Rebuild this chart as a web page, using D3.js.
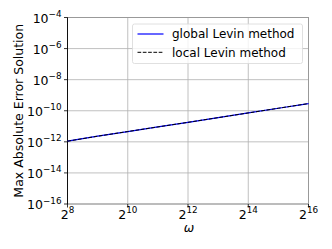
<!DOCTYPE html>
<html>
<head>
<meta charset="utf-8">
<script src="https://cdn.jsdelivr.net/npm/d3@7"></script>
<style>
  body { margin: 0; background: #fff; }
  svg text { font-family: "DejaVu Sans", sans-serif; fill: #000; }
</style>
</head>
<body>
<svg id="chart" width="332" height="249"></svg>
<script>
'use strict'

// omega exponents (base 2) and max abs errors
const log2Omega = [8, 9, 10, 11, 12, 13, 14, 15, 16]
const globalErr = [1.1e-12, 2.3e-12, 4.6e-12, 9.1e-12, 1.8e-11, 3.6e-11, 7.2e-11, 1.45e-10, 2.9e-10]
const localErr  = [1.1e-12, 2.3e-12, 4.6e-12, 9.1e-12, 1.8e-11, 3.6e-11, 7.2e-11, 1.45e-10, 2.9e-10]
const xTickExp = [8, 10, 12, 14, 16]
const yTickExp = [-4, -6, -8, -10, -12, -14, -16]
const seriesNames = ['global Levin method', 'local Levin method']

const margins = {top: 17.5, right: 23.5, bottom: 45, left: 67.5}
const width = 332 - margins.left - margins.right
const height = 249 - margins.top - margins.bottom

const svg = d3.select('#chart')
const g = svg.append('g').attr('transform', 'translate(' + margins.left + ',' + margins.top + ')')

const x = d3.scaleLog().base(2).domain([2 ** 8, 2 ** 16]).range([0, width])
const y = d3.scaleLog().domain([1e-16, 1e-4]).range([height, 0])

// grid
g.selectAll('.vgrid').data(xTickExp).enter().append('line')
  .attr('x1', d => x(2 ** d)).attr('x2', d => x(2 ** d))
  .attr('y1', 0).attr('y2', height)
  .attr('stroke', '#b0b0b0').attr('stroke-width', 0.8)
g.selectAll('.hgrid').data(yTickExp).enter().append('line')
  .attr('y1', d => y(10 ** d)).attr('y2', d => y(10 ** d))
  .attr('x1', 0).attr('x2', width)
  .attr('stroke', '#b0b0b0').attr('stroke-width', 0.8)

// spines: grid sits on top/right/bottom so they look grey
g.append('rect').attr('width', width).attr('height', height)
  .attr('fill', 'none').attr('stroke', '#999').attr('stroke-width', 1)
g.append('line').attr('x1', 0).attr('x2', 0).attr('y1', 0).attr('y2', height)
  .attr('stroke', '#000').attr('stroke-width', 0.9)

// ticks + labels, x axis
const xt = g.selectAll('.xt').data(xTickExp).enter().append('g')
  .attr('transform', d => 'translate(' + x(2 ** d) + ',' + height + ')')
xt.append('line').attr('y2', 3.5).attr('stroke', '#000').attr('stroke-width', 0.8)
const xl = xt.append('text').attr('y', 14.5).attr('text-anchor', 'middle').style('font-size', '12.5px')
xl.append('tspan').text('2')
xl.append('tspan').attr('dy', -5.5).style('font-size', '8.8px').text(d => d)

// ticks + labels, y axis
const yt = g.selectAll('.yt').data(yTickExp).enter().append('g')
  .attr('transform', d => 'translate(0,' + y(10 ** d) + ')')
yt.append('line').attr('x2', -3.5).attr('stroke', '#000').attr('stroke-width', 0.8)
const yl = yt.append('text').attr('x', -6).attr('y', 5).attr('text-anchor', 'end').style('font-size', '12.5px')
yl.append('tspan').text('10')
yl.append('tspan').attr('dy', -5.5).style('font-size', '8.8px').text(d => '\u2212' + Math.abs(d))

// lines
const line = d3.line().x(d => x(2 ** d[0])).y(d => y(d[1]))
g.append('path').datum(log2Omega.map((e, i) => [e, globalErr[i]]))
  .attr('d', line).attr('fill', 'none').attr('stroke', '#0000ff').attr('stroke-width', 1.2)
g.append('path').datum(log2Omega.map((e, i) => [e, localErr[i]]))
  .attr('d', line).attr('fill', 'none').attr('stroke', '#000').attr('stroke-width', 1)
  .attr('stroke-dasharray', '3.7,1.6')

// axis labels
g.append('text').attr('x', width / 2 + 1).attr('y', height + 28)
  .attr('text-anchor', 'middle').style('font-size', '12.5px').style('font-style', 'italic').text('\u03c9')
svg.append('text').attr('transform', 'translate(23,' + (margins.top + height / 2) + ') rotate(-90)')
  .attr('text-anchor', 'middle').style('font-size', '12.5px').text('Max Absolute Error Solution')

// legend
const legend = svg.append('g').attr('transform', 'translate(132.5,24)')
legend.append('rect').attr('width', 170).attr('height', 39.5).attr('rx', 2)
  .attr('fill', 'rgba(255,255,255,0.8)').attr('stroke', '#d8d8d8').attr('stroke-width', 0.8)
seriesNames.forEach((name, i) => {
  const row = legend.append('g').attr('transform', 'translate(5,' + (10 + i * 18.3) + ')')
  row.append('line').attr('x1', 0).attr('x2', 26)
    .attr('stroke', i === 0 ? '#0000ff' : '#000')
    .attr('stroke-width', i === 0 ? 1.2 : 1)
    .attr('stroke-dasharray', i === 0 ? null : '3.7,1.6')
  row.append('text').attr('x', 34.5).attr('y', 4.3).style('font-size', '12px').text(name)
})
</script>
</body>
</html>
